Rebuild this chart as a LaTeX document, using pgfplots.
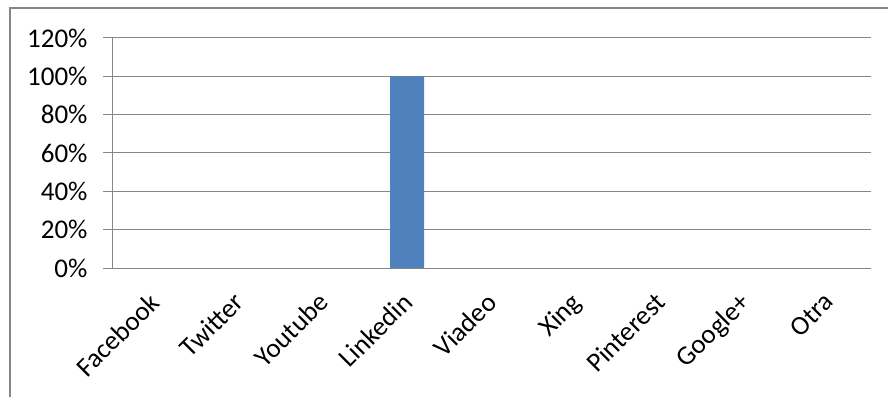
\documentclass[border=0pt]{standalone}
\usepackage{pgfplots}
\pgfplotsset{compat=1.18}
\usepackage{fontspec}
\setmainfont{Carlito}
\definecolor{gridgray}{RGB}{134,134,134}
\definecolor{barblue}{RGB}{79,129,189}
\begin{document}%
\begin{tikzpicture}
\path[use as bounding box] (0,0) rectangle (888bp,397bp);
\draw[gridgray, line width=1.5bp] (10bp,-5bp) -- (10bp,389bp) -- (895bp,389bp);
\begin{axis}[
  at={(112bp,129bp)}, anchor=south west,
  scale only axis, width=759bp, height=230bp,
  xmin=-0.5, xmax=8.5, ymin=0, ymax=1.2,
  ytick={0,0.2,...,1.2},
  yticklabels={0\%,20\%,40\%,60\%,80\%,100\%,120\%},
  xtick={0,...,8},
  xticklabels={Facebook,Twitter,Youtube,Linkedin,Viadeo,Xing,Pinterest,Google+,Otra},
  minor xtick={-0.5,0.5,...,8.5},
  xtick style={draw=none},
  minor x tick style={gridgray, line width=1bp},
  ytick style={gridgray, line width=1bp},
  tick align=outside,
  major tick length=9bp, minor tick length=9bp,
  ymajorgrids, major grid style={gridgray, line width=1bp},
  axis line style={gridgray, line width=1bp},
  axis x line*=bottom, axis y line*=left,
  xticklabel style={rotate=45, anchor=north east, xshift=-11bp, yshift=-2bp, font=\fontsize{27bp}{32bp}\selectfont},
  yticklabel style={xshift=-12bp, font=\fontsize{27bp}{32bp}\selectfont},
  ybar, bar width=34bp,
]
\addplot[fill=barblue, draw=none] coordinates {(0,0) (1,0) (2,0) (3,1) (4,0) (5,0) (6,0) (7,0) (8,0)};
\end{axis}
\end{tikzpicture}%
\end{document}
